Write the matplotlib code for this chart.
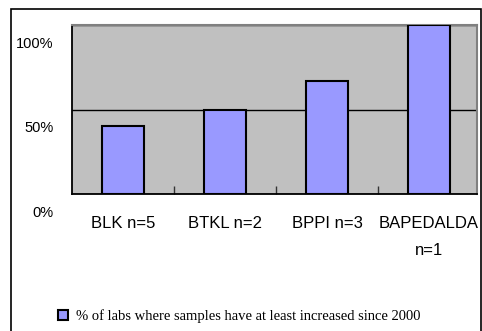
import matplotlib
matplotlib.use('Agg')
import matplotlib.pyplot as plt
from matplotlib.transforms import ScaledTranslation
from matplotlib.patches import Rectangle

# chart data
categories = ['BLK n=5', 'BTKL n=2', 'BPPI n=3', 'BAPEDALDA\nn=1']
shares = [0.4, 0.5, 0.667, 1.0]
ytick_values = [0, 0.5, 1.0]
ytick_labels = ['0%', '50%', '100%']
legend_label = '% of labs where samples have at least increased since 2000'

W, H = 482, 331
fig = plt.figure(figsize=(W / 100, H / 100), dpi=100)
ax = fig.add_axes([72 / W, 137 / H, 405 / W, 169 / H])
ax.set_facecolor('#C0C0C0')

x = list(range(len(categories)))
ax.bar(x, shares, width=0.41, color='#9999FF', edgecolor='black',
       linewidth=1.5, zorder=3, label=legend_label)
ax.set_ylim(0, 1)
ax.set_xlim(-0.5, 3.47)

# y axis: labels sit oddly below their gridlines in the original
ax.set_yticks(ytick_values)
ax.set_yticklabels(ytick_labels, fontfamily='Liberation Sans', fontsize=10.5)
ax.tick_params(axis='y', length=0, pad=13.5)
ax.grid(axis='y', color='black', linewidth=1, zorder=1)
shift = ScaledTranslation(0, -17.5 / 100, fig.dpi_scale_trans)
for lab in ax.get_yticklabels():
    lab.set_transform(lab.get_transform() + shift)

# x axis: labels at centres, tick marks at category boundaries
ax.set_xticks(x)
ax.set_xticklabels(categories, fontfamily='Liberation Sans', fontsize=12,
                   linespacing=1.95)
ax.tick_params(axis='x', which='major', length=0, pad=16)
ax.set_xticks([i + 0.5 for i in x[:-1]], minor=True)
ax.tick_params(axis='x', which='minor', direction='in', length=6,
               width=1, color='#333333')

for side in ['left', 'bottom']:
    ax.spines[side].set_color('black')
    ax.spines[side].set_linewidth(1.3)
for side in ['top', 'right']:
    ax.spines[side].set_color('#808080')
    ax.spines[side].set_linewidth(1.5)

fig.legend(loc='center left', bbox_to_anchor=(58 / W, 1 - 316 / H),
           frameon=False, borderpad=0, borderaxespad=0,
           handlelength=0.7, handleheight=0.7, handletextpad=0.55,
           prop={'family': 'Liberation Serif', 'size': 10.5})

# outer chart frame
fig.add_artist(Rectangle((11 / W, -0.05), (481 - 11) / W, (H - 9) / H + 0.05,
                         transform=fig.transFigure, fill=False,
                         edgecolor='black', linewidth=1.2, clip_on=False))

fig.savefig('out.png', dpi=100)
